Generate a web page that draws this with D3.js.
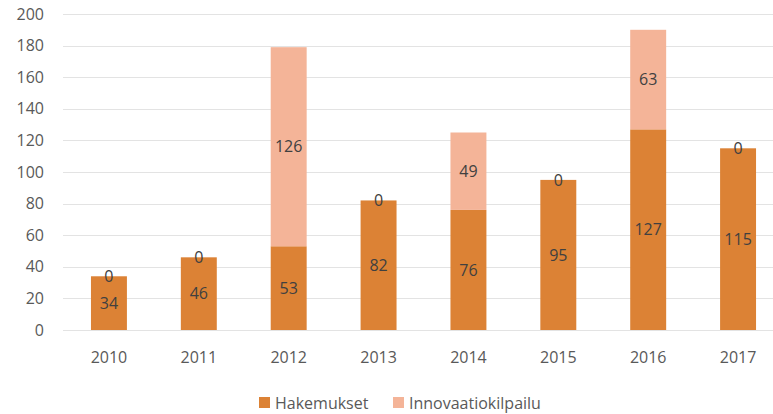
<!DOCTYPE html>
<html>
<head>
<meta charset="utf-8">
<script src="https://cdn.jsdelivr.net/npm/d3@7"></script>
<style>
  body { margin: 0; background: #fff; }
  text { font-family: "Open Sans", Lato, sans-serif; }
</style>
</head>
<body>
<svg id="chart" width="773" height="414"></svg>
<script>
var years = ['2010', '2011', '2012', '2013', '2014', '2015', '2016', '2017'];
var hakemukset = [34, 46, 53, 82, 76, 95, 127, 115];
var innovaatio = [0, 0, 126, 0, 49, 0, 63, 0];
var seriesNames = ['Hakemukset', 'Innovaatiokilpailu'];
var yTicks = [0, 20, 40, 60, 80, 100, 120, 140, 160, 180, 200];

var colors = ['#dc8235', '#f4b498'];

var svg = d3.select('#chart');

var rows = years.map(function(y, i) {
  return { year: y, Hakemukset: hakemukset[i], Innovaatiokilpailu: innovaatio[i] };
});
var stacked = d3.stack().keys(seriesNames)(rows);

var x = d3.scaleBand().domain(years).range([64, 783]).paddingInner(0.6).paddingOuter(0.3);
var y = d3.scaleLinear().domain([0, 200]).range([330, 14]);

// grid
svg.append('g').selectAll('line')
    .data(yTicks)
    .join('line')
    .attr('x1', 63).attr('x2', 773)
    .attr('y1', function(d) { return Math.round(y(d)) + 0.5; })
    .attr('y2', function(d) { return Math.round(y(d)) + 0.5; })
    .attr('stroke', '#e3e3e3')
    .attr('stroke-width', 1);

// y labels
svg.append('g').selectAll('text')
    .data(yTicks)
    .join('text')
    .attr('x', 44)
    .attr('y', function(d) { return y(d); })
    .attr('dy', '0.35em')
    .attr('text-anchor', 'end')
    .attr('fill', '#595959')
    .attr('font-size', 16)
    .text(function(d) { return d; });

// x labels
svg.append('g').selectAll('text')
    .data(years)
    .join('text')
    .attr('x', function(d) { return x(d) + x.bandwidth() / 2; })
    .attr('y', 357)
    .attr('dy', '0.35em')
    .attr('text-anchor', 'middle')
    .attr('fill', '#595959')
    .attr('font-size', 16)
    .text(function(d) { return d; });

// bars
var layers = svg.append('g').selectAll('g')
    .data(stacked)
    .join('g')
    .attr('fill', function(d, i) { return colors[i]; });

layers.selectAll('rect')
    .data(function(d) { return d; })
    .join('rect')
    .attr('x', function(d) { return x(d.data.year); })
    .attr('width', x.bandwidth())
    .attr('y', function(d) { return y(d[1]); })
    .attr('height', function(d) { return y(d[0]) - y(d[1]); });

// value labels
layers.selectAll('text')
    .data(function(d) { return d; })
    .join('text')
    .attr('x', function(d) { return x(d.data.year) + x.bandwidth() / 2; })
    .attr('y', function(d) { return (y(d[0]) + y(d[1])) / 2; })
    .attr('dy', '0.35em')
    .attr('text-anchor', 'middle')
    .attr('fill', '#404040')
    .attr('font-size', 16)
    .text(function(d) { return d[1] - d[0]; });

// legend
var legend = svg.append('g').selectAll('g')
    .data(seriesNames)
    .join('g')
    .attr('transform', function(d, i) { return 'translate(' + [259, 393][i] + ',397)'; });

legend.append('rect')
    .attr('width', 11).attr('height', 11)
    .attr('fill', function(d, i) { return colors[i]; });

legend.append('text')
    .attr('x', 16)
    .attr('y', 6)
    .attr('dy', '0.35em')
    .attr('fill', '#595959')
    .attr('font-size', 16)
    .text(function(d) { return d; });
</script>
</body>
</html>
